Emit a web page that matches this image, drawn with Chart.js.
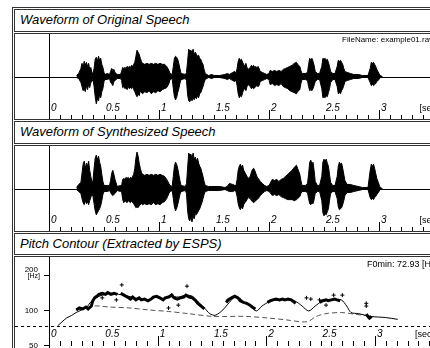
<!DOCTYPE html>
<html>
<head>
<meta charset="utf-8">
<script src="https://cdn.jsdelivr.net/npm/chart.js@4.4.1/dist/chart.umd.min.js"></script>
<style>
  html, body { margin: 0; padding: 0; background: #fff; width: 430px; height: 348px; overflow: hidden; position: relative; font-family: 'Liberation Sans', Arial, sans-serif; }
  .box { position: absolute; border: 1px solid #333; box-sizing: border-box; }
  .title { font-style: italic; font-size: 13px; line-height: 20px; padding-left: 5px; color: #000; white-space: nowrap; }
  canvas { position: absolute; }
  .note { position: absolute; font-size: 8px; line-height: 10px; white-space: nowrap; color: #000; }
</style>
</head>
<body>
<div class="box" style="left:12px; top:7px; width:470px; height:370px;"></div>

<div class="box title" style="left:14px; top:9px; width:460px; height:23px;">Waveform of Original Speech</div>
<div class="box" style="left:14px; top:33px; width:460px; height:87px;"></div>
<canvas id="wave1" width="441" height="85" style="left:15px; top:34px;"></canvas>

<div class="box title" style="left:14px; top:121px; width:460px; height:23px;">Waveform of Synthesized Speech</div>
<div class="box" style="left:14px; top:145px; width:460px; height:87px;"></div>
<canvas id="wave2" width="441" height="85" style="left:15px; top:146px;"></canvas>

<div class="box title" style="left:14px; top:233px; width:460px; height:22px;">Pitch Contour (Extracted by ESPS)</div>
<div class="box" style="left:14px; top:256px; width:460px; height:110px;"></div>
<canvas id="pitch" width="441" height="93" style="left:15px; top:257px;"></canvas>

<div class="note" style="left:342px; top:35px;">FileName: example01.raw</div>
<div class="note" style="left:367px; top:259px; font-size:9px;">F0min: 72.93 [Hz]</div>

<script>
// waveform envelopes, time in seconds, amplitude up / down from the zero line
const waveTime = [
  0.25, 0.27, 0.29, 0.30, 0.31, 0.32, 0.33, 0.34, 0.35, 0.36,
  0.37, 0.38, 0.39, 0.40, 0.41, 0.42, 0.43, 0.44, 0.45, 0.46,
  0.47, 0.48, 0.49, 0.50, 0.51, 0.53, 0.55, 0.56, 0.57, 0.58,
  0.59, 0.60, 0.62, 0.65, 0.66, 0.67, 0.68, 0.69, 0.70, 0.71,
  0.72, 0.73, 0.74, 0.75, 0.76, 0.77, 0.78, 0.79, 0.80, 0.81,
  0.82, 0.83, 0.84, 0.85, 0.87, 0.89, 0.91, 0.93, 0.95, 0.97,
  0.99, 1.01, 1.03, 1.05, 1.07, 1.09, 1.10, 1.12, 1.13, 1.14,
  1.15, 1.16, 1.17, 1.18, 1.19, 1.20, 1.24, 1.25, 1.26, 1.27,
  1.28, 1.29, 1.30, 1.31, 1.32, 1.33, 1.34, 1.35, 1.36, 1.37,
  1.38, 1.39, 1.40, 1.41, 1.42, 1.45, 1.48, 1.50, 1.55, 1.60,
  1.62, 1.64, 1.67, 1.69, 1.70, 1.71, 1.72, 1.73, 1.74, 1.75,
  1.76, 1.77, 1.78, 1.79, 1.80, 1.81, 1.83, 1.84, 1.85, 1.86,
  1.87, 1.88, 1.89, 1.90, 1.91, 1.92, 1.94, 1.96, 1.98, 2.00,
  2.01, 2.03, 2.05, 2.07, 2.09, 2.11, 2.13, 2.15, 2.17, 2.19,
  2.21, 2.23, 2.25, 2.26, 2.28, 2.29, 2.30, 2.33, 2.35, 2.36,
  2.37, 2.38, 2.39, 2.40, 2.41, 2.42, 2.44, 2.46, 2.48, 2.49,
  2.50, 2.51, 2.52, 2.53, 2.54, 2.55, 2.56, 2.58, 2.60, 2.62,
  2.63, 2.64, 2.65, 2.66, 2.67, 2.68, 2.69, 2.71, 2.74, 2.77,
  2.81, 2.85, 2.90, 2.92, 2.93, 2.94, 2.95, 2.96, 2.97, 2.98,
  3.00, 3.01, 3.03
];
const origUpper = [
  1, 3, 8, 13, 9, 15, 11, 14, 10, 13,
  7, 9, 4, 3, 8, 17, 19, 15, 20, 16,
  18, 12, 9, 4, 2, 3, 2, 5, 8, 6,
  7, 4, 2, 2, 5, 9, 8, 9, 8, 10,
  9, 10, 9, 11, 10, 12, 14, 20, 26, 24,
  22, 18, 15, 13, 12, 13, 12, 13, 12, 13,
  12, 13, 12, 12, 10, 6, 3, 2, 10, 18,
  20, 19, 17, 13, 8, 3, 2, 4, 15, 27,
  25, 26, 24, 27, 22, 24, 22, 20, 21, 18,
  17, 14, 12, 7, 3, 1, 2, 1, 1, 2,
  3, 2, 4, 5, 3, 8, 15, 18, 16, 17,
  14, 12, 10, 13, 9, 7, 9, 11, 10, 11,
  9, 10, 8, 10, 8, 5, 4, 3, 2, 3,
  6, 5, 6, 5, 6, 5, 7, 8, 9, 10,
  11, 13, 14, 12, 10, 6, 3, 3, 4, 12,
  18, 16, 18, 15, 11, 5, 3, 3, 10, 18,
  17, 18, 16, 17, 14, 10, 5, 3, 3, 10,
  16, 15, 16, 14, 12, 8, 5, 4, 3, 2,
  2, 1, 1, 8, 14, 13, 14, 12, 10, 7,
  3, 1, 0
];
const origLower = [
  1, 2, 6, 10, 14, 12, 15, 9, 13, 8,
  11, 6, 5, 3, 10, 20, 27, 22, 24, 18,
  21, 15, 12, 5, 3, 3, 2, 6, 7, 9,
  5, 4, 2, 2, 4, 11, 10, 12, 11, 13,
  10, 12, 11, 12, 10, 13, 15, 18, 20, 17,
  19, 14, 16, 17, 15, 16, 14, 17, 15, 16,
  14, 15, 13, 12, 11, 7, 3, 2, 12, 20,
  23, 21, 16, 12, 7, 3, 2, 4, 18, 24,
  25, 22, 24, 21, 23, 20, 22, 19, 21, 17,
  16, 13, 10, 6, 3, 1, 2, 1, 1, 2,
  3, 2, 4, 5, 3, 9, 17, 21, 19, 20,
  16, 13, 12, 14, 10, 8, 10, 12, 11, 12,
  11, 10, 9, 10, 9, 5, 4, 3, 2, 3,
  8, 7, 9, 8, 9, 7, 10, 11, 12, 14,
  15, 16, 17, 15, 13, 7, 3, 3, 4, 10,
  14, 13, 14, 12, 9, 5, 3, 3, 12, 21,
  20, 21, 19, 20, 16, 12, 6, 3, 3, 10,
  17, 16, 17, 14, 12, 9, 5, 4, 3, 2,
  2, 1, 1, 6, 9, 8, 9, 8, 7, 5,
  3, 1, 0
];
const synthUpper = [
  1, 4, 6, 15, 24, 27, 20, 25, 22, 27,
  18, 12, 6, 8, 20, 30, 33, 28, 32, 26,
  22, 14, 7, 3, 3, 3, 3, 8, 15, 18,
  14, 9, 2, 3, 3, 9, 10, 9, 11, 10,
  11, 9, 11, 10, 12, 14, 20, 30, 36, 32,
  25, 20, 16, 14, 13, 14, 13, 14, 13, 14,
  13, 14, 13, 12, 9, 5, 3, 2, 12, 22,
  26, 24, 20, 14, 8, 3, 2, 5, 20, 35,
  33, 34, 30, 35, 29, 31, 27, 30, 25, 22,
  20, 16, 12, 7, 3, 2, 2, 2, 2, 1,
  2, 5, 4, 3, 3, 9, 18, 22, 24, 21,
  23, 18, 16, 14, 12, 10, 12, 16, 19, 20,
  18, 15, 12, 10, 9, 7, 5, 3, 2, 3,
  5, 9, 8, 9, 7, 9, 10, 12, 14, 16,
  18, 21, 23, 20, 14, 8, 3, 3, 5, 14,
  26, 28, 24, 26, 18, 7, 3, 3, 12, 26,
  29, 27, 29, 25, 22, 14, 6, 3, 3, 12,
  22, 26, 24, 25, 20, 14, 8, 4, 4, 3,
  2, 1, 1, 18, 24, 22, 24, 20, 15, 10,
  4, 1, 0
];
const synthLower = [
  1, 3, 5, 10, 14, 16, 12, 15, 13, 16,
  12, 9, 5, 8, 15, 22, 26, 24, 22, 20,
  17, 12, 6, 3, 3, 3, 2, 4, 6, 7,
  6, 5, 2, 3, 3, 11, 14, 12, 13, 14,
  12, 13, 14, 12, 14, 15, 17, 19, 18, 19,
  17, 16, 15, 16, 15, 16, 15, 16, 14, 16,
  15, 16, 14, 13, 10, 5, 3, 2, 10, 18,
  22, 20, 16, 11, 6, 3, 2, 5, 22, 30,
  32, 28, 33, 27, 30, 25, 26, 24, 22, 20,
  17, 14, 10, 6, 3, 2, 2, 2, 2, 1,
  2, 3, 3, 2, 3, 8, 15, 19, 21, 18,
  20, 16, 14, 13, 11, 9, 10, 12, 13, 14,
  13, 12, 11, 10, 9, 7, 5, 3, 2, 3,
  4, 7, 6, 7, 6, 8, 9, 10, 11, 11,
  11, 12, 11, 10, 8, 5, 3, 3, 4, 10,
  15, 16, 14, 15, 11, 5, 3, 3, 12, 24,
  27, 25, 26, 23, 20, 12, 5, 3, 3, 10,
  18, 21, 20, 19, 16, 12, 7, 4, 4, 3,
  2, 1, 1, 9, 11, 10, 11, 9, 8, 6,
  3, 1, 0
];

// pitch contour (Hz)
const modelTime = [0.08, 0.12, 0.16, 0.21, 0.25, 0.30, 0.35, 0.38, 0.42, 0.46,
  0.52, 0.58, 0.64, 0.69, 0.76, 0.84, 0.92, 0.99, 1.05, 1.12,
  1.19, 1.26, 1.32, 1.37, 1.43, 1.48, 1.53, 1.60, 1.66, 1.72,
  1.78, 1.85, 1.91, 1.96, 2.03, 2.10, 2.19, 2.26, 2.33, 2.39,
  2.45, 2.51, 2.60, 2.69, 2.74, 2.78, 2.85, 2.96, 3.10, 3.21];
const modelHz = [73, 79, 85, 90, 95, 100, 106, 116, 124, 131,
  136, 139, 136, 134, 129, 124, 122, 129, 124, 131,
  129, 134, 131, 118, 104, 93, 90, 100, 116, 131,
  118, 108, 98, 108, 118, 122, 122, 120, 108, 98,
  108, 118, 122, 122, 108, 95, 93, 88, 86, 83];

const phraseTime = [0.35, 0.40, 0.46, 0.55, 0.74, 0.92, 1.10, 1.28, 1.51, 1.81,
  2.03, 2.19, 2.33, 2.39, 2.46, 2.55, 2.69, 2.81, 2.96];
const phraseHz = [104, 108, 108, 106, 104, 100, 97, 93, 88, 88,
  85, 82, 79, 80, 88, 93, 95, 92, 88];

const pitchTime = [0.25, 0.28, 0.31, 0.34, 0.36, 0.39, 0.40, 0.42, 0.44, 0.46,
  0.49, 0.52, 0.54, 0.57, 0.60, 0.63, 0.645,
  0.66, 0.69, 0.72, 0.75, 0.77, 0.80, 0.83, 0.85, 0.88, 0.91,
  0.94, 0.96, 0.99, 1.02, 1.05, 1.07, 1.10, 1.13, 1.15, 1.18,
  1.21, 1.24, 1.26, 1.29, 1.32, 1.35, 1.37, 1.40, 1.43, 1.45,
  1.63, 1.65, 1.68, 1.71, 1.74, 1.76, 1.79, 1.82, 1.85, 1.87, 1.90, 1.95,
  2.01, 2.04, 2.06, 2.09, 2.12, 2.15, 2.17, 2.20, 2.23, 2.25, 2.27, 2.40,
  2.49, 2.52, 2.55, 2.57, 2.60, 2.63, 2.65, 2.68, 2.80,
  2.92, 2.94, 2.95, 2.97];
const pitchHz = [100, 104, 102, 106, 102, 108, 118, 127, 131, 136,
  139, 136, 141, 136, 139, 136, null,
  139, 134, 129, 124, 129, 122, 127, 122, 124, 120,
  124, 129, 131, 127, 122, 127, 129, 134, 127, 124,
  127, 129, 134, 129, 127, 120, 114, 108, 102, null,
  116, 122, 127, 131, 127, 120, 116, 114, 110, 106, 102, null,
  116, 120, 122, 124, 122, 124, 122, 124, 122, 118, 114, null,
  116, 120, 122, 120, 122, 124, 122, 120, null,
  92, 87, 85, 88];

const outlierTime = [0.49, 0.62, 0.67, 1.10, 1.13, 1.19, 1.27, 1.65, 1.76, 2.37,
  2.41, 2.49, 2.55, 2.62, 2.70, 2.92, 2.92];
const outlierHz = [127, 122, 164, 104, 134, 110, 160, 122, 122, 127,
  124, 122, 110, 134, 134, 114, 108];

// axes
const timeLabelValues = [0, 0.5, 1, 1.5, 2, 2.5, 3];
const timeLabels = ['0', '0.5', '1', '1.5', '2', '2.5', '3'];
const timeUnit = '[sec]';
const timeUnitAt = 3.35;
const timeTickStep = 0.1;
const timeMax = 3.7;
const hzTicks = [200, 100, 50];
const hzLabels = ['200', '100', '50'];
const hzUnit = '[Hz]';
const f0Min = 72.93;

const FONT = '"Liberation Sans", Arial, sans-serif';

function points(xs, ys, sign = 1) {
  return xs.map((x, i) => ({ x, y: ys[i] === null ? null : sign * ys[i] }));
}

function hline(ctx, x1, x2, y) {
  ctx.beginPath(); ctx.moveTo(x1, y); ctx.lineTo(x2, y); ctx.stroke();
}

function vline(ctx, x, y1, y2) {
  ctx.beginPath(); ctx.moveTo(x, y1); ctx.lineTo(x, y2); ctx.stroke();
}

// zero / F0min line, left axis, time ticks inside the bottom edge
const panelAxes = {
  id: 'panelAxes',
  beforeDatasetsDraw(chart, args, opts) {
    const { ctx, scales: { y } } = chart;
    ctx.save();
    ctx.strokeStyle = '#000';
    ctx.lineWidth = 1;
    ctx.setLineDash(opts.baselineDash || []);
    hline(ctx, 0, chart.width, Math.round(y.getPixelForValue(opts.baseline)) + 0.5);
    ctx.restore();
  },
  afterDraw(chart, args, opts) {
    const { ctx, chartArea: a, scales: { x, y } } = chart;
    ctx.save();
    ctx.strokeStyle = '#000';
    ctx.fillStyle = '#000';
    ctx.lineWidth = 1;
    const ax = Math.round(a.left) + 0.5;
    vline(ctx, ax, 0, chart.height);

    const bottom = a.bottom + 1;
    for (let i = 1; i * timeTickStep <= timeMax; i++) {
      const v = i * timeTickStep;
      const px = Math.round(x.getPixelForValue(v)) + 0.5;
      const major = Math.abs(v - Math.round(v)) < 1e-6;
      vline(ctx, px, bottom, bottom - (major ? 10 : 5));
    }
    ctx.textAlign = 'left';
    ctx.textBaseline = 'alphabetic';
    ctx.font = 'italic 10px ' + FONT;
    timeLabelValues.forEach((v, i) => {
      ctx.fillText(timeLabels[i], x.getPixelForValue(v) + 2, bottom - 9);
    });
    ctx.font = '9px ' + FONT;
    ctx.fillText(timeUnit, x.getPixelForValue(timeUnitAt) + 2, bottom - 9);

    if (opts.hzAxis) {
      ctx.textAlign = 'right';
      hzTicks.forEach((hz, i) => {
        const py = Math.round(y.getPixelForValue(hz)) + 0.5;
        hline(ctx, a.left - 5, a.left, py);
        ctx.font = '8px ' + FONT;
        if (i === 0) {
          ctx.textBaseline = 'alphabetic';
          ctx.fillText(hzLabels[i], a.left - 11, py - 4);
          ctx.font = '7px ' + FONT;
          ctx.textBaseline = 'middle';
          ctx.fillText(hzUnit, a.left - 9, py + 1);
        } else {
          ctx.textBaseline = 'middle';
          ctx.fillText(hzLabels[i], a.left - 11, py);
        }
      });
    }
    ctx.restore();
  }
};

function renderWave(canvas, upper, lower) {
  new Chart(canvas, {
    type: 'line',
    data: {
      datasets: [
        { data: points(waveTime, upper), fill: '+1', backgroundColor: '#000', borderColor: '#000', borderWidth: 1, pointRadius: 0, tension: 0 },
        { data: points(waveTime, lower, -1), fill: false, borderColor: '#000', borderWidth: 1, pointRadius: 0, tension: 0 },
      ],
    },
    options: {
      responsive: false,
      animation: false,
      devicePixelRatio: 1,
      layout: { padding: { left: 34 } },
      scales: {
        x: { type: 'linear', min: 0, max: timeMax, display: false },
        y: { min: -42, max: 42, display: false },
      },
      plugins: { legend: { display: false }, tooltip: { enabled: false }, panelAxes: { baseline: 0 } },
    },
    plugins: [panelAxes],
  });
}

function renderPitch(canvas) {
  new Chart(canvas, {
    type: 'line',
    data: {
      datasets: [
        { data: points(pitchTime, pitchHz), borderColor: '#000', borderWidth: 3, pointRadius: 0, spanGaps: false, tension: 0 },
        { data: points(outlierTime, outlierHz), showLine: false, pointStyle: 'cross', pointRadius: 2, borderColor: '#000', borderWidth: 1 },
        { data: points(modelTime, modelHz), borderColor: '#000', borderWidth: 1, pointRadius: 0, tension: 0.3 },
        { data: points(phraseTime, phraseHz), borderColor: '#555', borderWidth: 1, borderDash: [5, 3], pointRadius: 0, tension: 0.3 },
      ],
    },
    options: {
      responsive: false,
      animation: false,
      devicePixelRatio: 1,
      layout: { padding: { left: 34, bottom: 3 } },
      scales: {
        x: { type: 'linear', min: 0, max: timeMax, display: false },
        y: { type: 'logarithmic', min: 50, max: 258, display: false },
      },
      plugins: { legend: { display: false }, tooltip: { enabled: false }, panelAxes: { baseline: f0Min, baselineDash: [3, 3], hzAxis: true } },
    },
    plugins: [panelAxes],
  });
}

renderWave(document.getElementById('wave1'), origUpper, origLower);
renderWave(document.getElementById('wave2'), synthUpper, synthLower);
renderPitch(document.getElementById('pitch'));
</script>
</body>
</html>
